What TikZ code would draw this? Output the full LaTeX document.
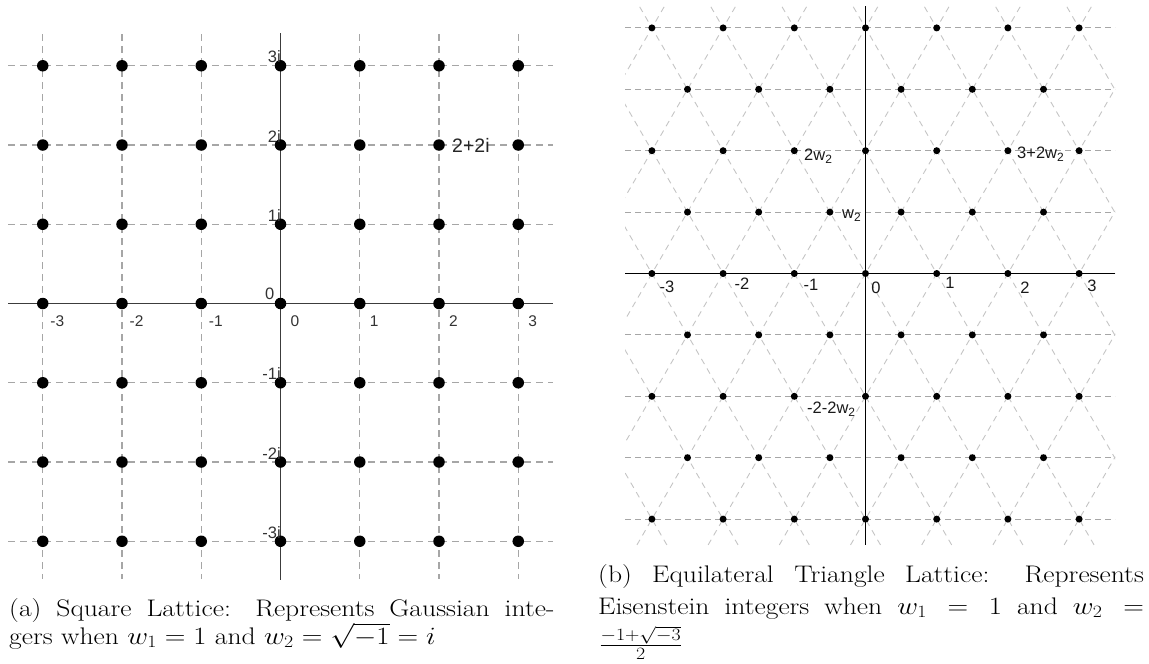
\documentclass[tikz,border=0pt]{standalone}
\usepackage{fontspec}
\newfontfamily\labfont{Liberation Sans}
\newcommand\capfont{\rmfamily\fontsize{24}{28}\selectfont}
\newcommand\lsub[1]{\raisebox{-3pt}{\fontsize{12}{12}\selectfont #1}}
\definecolor{gridgray}{HTML}{A6A6A6}
\definecolor{diaggray}{HTML}{C4C4C4}
\definecolor{axisgray}{HTML}{3C3C3C}
\definecolor{labgray}{HTML}{333333}
\tikzset{
  ldash/.style={draw=gridgray, line width=1.2pt, dash pattern=on 7pt off 5pt},
  laxis/.style={draw=axisgray, line width=1.8pt},
  ldot/.style={circle, fill=black, inner sep=0pt, minimum size=11.5pt},
  llab/.style={inner sep=0pt, text=labgray, font=\labfont\fontsize{16.5}{16.5}\selectfont},
  rdash/.style={draw=gridgray, line width=0.9pt, dash pattern=on 6pt off 4pt},
  rdiag/.style={draw=diaggray, line width=0.9pt, dash pattern=on 6pt off 5pt},
  raxis/.style={draw=black, line width=1.2pt},
  rdot/.style={circle, fill=black, inner sep=0pt, minimum size=7pt},
  rlab/.style={inner sep=0pt, text=black!90, font=\labfont\fontsize{16.5}{16.5}\selectfont},
  capnode/.style={inner sep=0pt, anchor=base west, xscale=1.15}
}
\begin{document}
\begin{tikzpicture}[x=1pt,y=-1pt]
\useasboundingbox (0,0) rectangle (1149,664);
% ---------- left: square lattice ----------
\def\Lox{280.5}\def\Loy{303.5}\def\Ls{79.25}
\foreach \i in {-3,...,3} {
  \draw[ldash] ({\Lox+\i*\Ls},34) -- ({\Lox+\i*\Ls},579);
  \draw[ldash] (8,{\Loy+\i*\Ls}) -- (553,{\Loy+\i*\Ls});
}
\draw[laxis] (8,\Loy) -- (553,\Loy);
\draw[laxis] (\Lox,33) -- (\Lox,580);
\foreach \i in {-3,...,3} \foreach \j in {-3,...,3}
  \node[ldot] (sq\i\j) at ({\Lox+\i*\Ls},{\Loy-\j*\Ls}) {};
% y labels
\foreach \j/\t in {3/3i,2/2i,1/1i,-1/-1i,-2/-2i,-3/-3i}
  \node[llab, anchor=base east] (ly\j) at (281,{\Loy-\j*\Ls-3}) {\t};
\node[llab, anchor=base east] (ly0) at (274.5,299.5) {0};
% x labels
\foreach \i in {-3,...,3}
  \node[llab, font=\labfont\fontsize{15.5}{15.5}\selectfont] (lx\i) at ({\Lox+\i*\Ls+14.5},321) {\i};
\node[llab, anchor=base west, text=black!85, font=\labfont\fontsize{19.5}{19.5}\selectfont] (l22) at (452,152.5) {2+2i};
% ---------- right: triangular lattice ----------
\def\Rox{865.5}\def\Roy{273.5}\def\Ru{71.2}\def\Rh{61.4}
\begin{scope}
\clip (625,6) rectangle (1115,545);
\foreach \k in {-12,...,12} {
  \draw[rdiag] ({\Rox+\k*\Ru-5*\Ru},{\Roy+10*\Rh}) -- ({\Rox+\k*\Ru+5*\Ru},{\Roy-10*\Rh});
  \draw[rdiag] ({\Rox+\k*\Ru+5*\Ru},{\Roy+10*\Rh}) -- ({\Rox+\k*\Ru-5*\Ru},{\Roy-10*\Rh});
}
\foreach \r in {-4,...,4}
  \draw[rdash] (625,{\Roy+\r*\Rh}) -- (1115,{\Roy+\r*\Rh});
\end{scope}
\draw[raxis] (625,\Roy) -- (1115,\Roy);
\draw[raxis] (\Rox,6) -- (\Rox,545);
\foreach \r in {-4,-2,0,2,4} \foreach \k in {-3,...,3}
  \node[rdot] (tr\r\k) at ({\Rox+\k*\Ru},{\Roy+\r*\Rh}) {};
\foreach \r in {-3,-1,1,3} \foreach \k in {-3,...,2}
  \node[rdot] (tr\r\k h) at ({\Rox+(\k+0.5)*\Ru},{\Roy+\r*\Rh}) {};
% axis labels
\foreach \v/\x/\y in {-3/667/287,-2/742/284,-1/811/285,0/876/288,1/950/283,2/1025/288,3/1092/286}
  \node[rlab] (rx\v) at (\x,\y) {\v};
\node[rlab, anchor=base west] (r2w) at (804,160) {2w\lsub{2}};
\node[rlab, anchor=base west] (rw) at (842,218.5) {w\lsub{2}};
\node[rlab, anchor=base west] (r32w) at (1017,158) {3+2w\lsub{2}};
\node[rlab, anchor=base west] (rm22w) at (807,413) {-2-2w\lsub{2}};
% ---------- captions ----------
\node[capnode] (capa1) at (9,616) {\capfont\makebox[474pt][s]{(a) Square Lattice: Represents Gaussian inte-}};
\node[capnode] (capa2) at (9,644) {\capfont gers when $w_1 = 1$ and $w_2 = \sqrt{-1} = i$};
\node[capnode] (capb1) at (598,582) {\capfont\makebox[474.5pt][s]{(b) Equilateral Triangle Lattice: Represents}};
\node[capnode] (capb2) at (598,614) {\capfont\makebox[474.5pt][s]{Eisenstein integers when $w_1 = 1$ and $w_2 =$}};
\node[capnode] (capb3) at (599,651) {\capfont$\frac{-1+\sqrt{-3}}{2}$};
\end{tikzpicture}
\end{document}
